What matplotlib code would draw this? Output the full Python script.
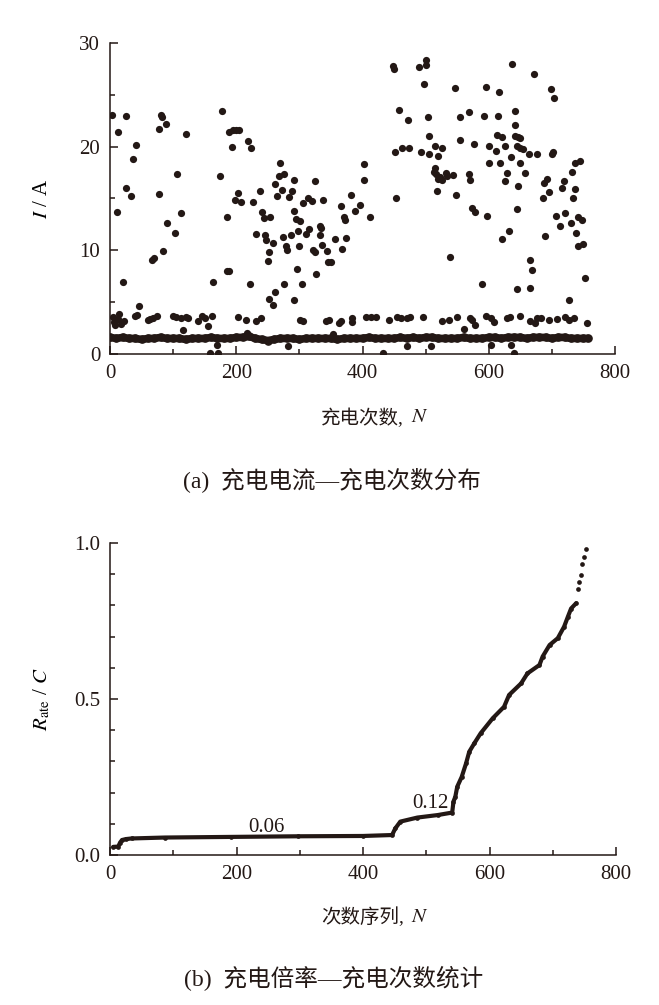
import matplotlib
matplotlib.use('Agg')
import matplotlib.pyplot as plt
from matplotlib.ticker import MultipleLocator, FormatStrFormatter

# (a) charging current vs charge count
# scattered high-current charges
cur_x = [3, 12, 11, 26, 20, 26, 33, 36, 41, 46,
         80, 82, 78, 88, 77, 66, 69, 84, 91, 103,
         106, 112, 120, 163, 178, 174, 185, 186, 188, 193,
         189, 195, 200, 205, 198, 203, 207, 218, 223, 227,
         222, 231, 238, 241, 244, 254, 245, 247, 252, 251,
         258, 252, 259, 262, 261, 265, 270, 268, 275, 273,
         274, 279, 280, 276, 283, 286, 288, 291, 291, 291,
         294, 297, 298, 300, 301, 305, 304, 311, 313, 316,
         320, 322, 324, 325, 327, 332, 334, 338, 333, 336,
         344, 346,
         350, 357, 374, 368, 366, 382, 396, 371, 373, 388,
         412, 403, 403, 449, 450, 453, 452, 458, 463, 474,
         472, 489, 500, 501, 498, 503, 492, 505, 505, 515,
         526, 520, 515, 517, 519, 514, 523, 526, 532, 534,
         543, 518, 539, 546, 548, 554, 555, 568, 571, 569,
         573, 579, 577, 589, 593, 596, 597, 601, 611, 601,
         614, 613, 617, 618, 621, 625, 621, 625, 629, 632,
         636, 637, 641, 642, 641, 647, 650, 645, 650, 654,
         647, 650, 645, 645, 665, 666, 669, 657, 664, 672,
         677, 689, 686, 688, 692, 696, 698, 704, 700, 701,
         707, 721, 713, 730, 716, 719, 737, 734, 732, 736,
         745, 727, 741, 747, 738, 742, 750, 753]
cur_y = [23.1, 21.4, 13.7, 23.0, 6.9, 16.0, 15.2, 18.8, 20.2, 4.6,
         23.1, 22.9, 21.7, 22.2, 15.4, 9.1, 9.3, 9.9, 12.6, 11.7,
         17.4, 13.6, 21.2, 6.9, 23.4, 17.2, 13.2, 8.0, 8.0, 20.0,
         21.4, 21.6, 21.6, 21.6, 14.9, 15.5, 14.7, 20.5, 19.9, 14.7,
         6.8, 11.6, 15.7, 13.7, 13.1, 13.2, 11.5, 11.0, 9.8, 9.0,
         10.7, 5.3, 4.7, 6.0, 16.4, 15.2, 18.4, 17.2, 17.4, 15.8,
         11.3, 10.4, 10.0, 6.8, 15.1, 11.5, 15.7, 16.8, 5.2, 13.8,
         13.0, 8.2, 11.9, 10.4, 12.8, 14.6, 6.8, 11.6, 15.0, 12.1,
         14.8, 10.0, 9.8, 16.7, 7.7, 12.3, 12.2, 14.9, 11.5, 10.5,
         9.9, 8.9,
         8.9, 11.1, 11.2, 10.1, 14.3, 15.3, 14.4, 13.2, 12.9, 13.8,
         13.2, 18.3, 16.8, 27.8, 27.5, 15.0, 19.5, 23.5, 19.9, 19.9,
         22.6, 27.7, 28.4, 27.9, 26.0, 22.9, 19.5, 19.3, 21.0, 20.1,
         19.9, 19.1, 17.9, 17.4, 16.9, 17.6, 17.1, 16.8, 17.5, 17.2,
         17.3, 15.7, 9.4, 25.7, 15.3, 22.9, 20.6, 17.4, 16.8, 23.3,
         14.1, 13.7, 20.3, 6.8, 23.0, 25.8, 13.3, 20.1, 19.6, 18.4,
         23.0, 21.1, 25.3, 18.4, 20.9, 20.1, 11.1, 16.7, 17.5, 11.9,
         19.0, 28.0, 22.1, 23.4, 21.0, 20.9, 20.8, 20.1, 19.9, 19.8,
         16.2, 18.4, 14.0, 6.3, 6.4, 9.1, 8.1, 17.5, 19.3, 27.0,
         19.3, 11.4, 15.0, 16.5, 16.9, 15.6, 25.6, 24.7, 19.3, 19.5,
         13.3, 13.6, 12.3, 12.6, 16.0, 16.7, 15.9, 15.0, 17.6, 18.4,
         18.6, 5.2, 13.2, 12.9, 11.7, 10.4, 10.6, 7.3]

# second band around 3.5 A
low_x = [4, 6, 8, 13, 17, 22, 14, 39, 43, 60, 64, 68, 74, 100, 105, 113, 121, 123, 115,
         139, 145, 150, 156, 161, 202, 216, 232, 239, 301, 306, 342,
         347, 363, 366, 383, 384, 405, 413, 421, 442, 455, 461, 471, 476, 496,
         526, 537, 550, 560, 571, 579, 574, 596, 604, 608, 629, 634, 650,
         666, 673, 676, 682, 695, 708, 721, 727, 735, 755]
low_y = [3.6, 3.1, 2.8, 3.4, 2.9, 3.2, 3.9, 3.7, 3.8, 3.3, 3.4, 3.5, 3.7, 3.7, 3.6, 3.5, 3.6, 3.5, 2.3,
         3.2, 3.7, 3.5, 2.7, 3.7, 3.6, 3.3, 3.2, 3.5, 3.3, 3.2, 3.2,
         3.3, 3.0, 3.2, 3.5, 3.1, 3.6, 3.6, 3.6, 3.3, 3.6, 3.5, 3.5, 3.6, 3.6,
         3.2, 3.3, 3.6, 2.4, 3.5, 2.8, 3.3, 3.7, 3.5, 3.1, 3.5, 3.6, 3.7,
         3.2, 3.0, 3.5, 3.5, 3.3, 3.4, 3.6, 3.3, 3.5, 3.0]

# dense base band around 1.5 A (read every 10 charges)
base_x = list(range(0, 760, 10)) + [757]
base_y = [1.6, 1.5, 1.6, 1.5, 1.5, 1.4, 1.5, 1.5, 1.6, 1.5,
          1.5, 1.5, 1.4, 1.5, 1.5, 1.5, 1.6, 1.5, 1.5, 1.5,
          1.6, 1.6, 1.7, 1.5, 1.4, 1.3, 1.4, 1.5, 1.5, 1.5,
          1.4, 1.5, 1.5, 1.5, 1.5, 1.5, 1.4, 1.5, 1.5, 1.5,
          1.5, 1.6, 1.5, 1.5, 1.5, 1.5, 1.6, 1.5, 1.6, 1.5,
          1.6, 1.6, 1.5, 1.5, 1.5, 1.5, 1.6, 1.5, 1.5, 1.5,
          1.6, 1.6, 1.5, 1.6, 1.6, 1.6, 1.5, 1.6, 1.6, 1.6,
          1.5, 1.6, 1.6, 1.5, 1.5, 1.5, 1.5]

# odd points just off the base band
dip_x = [159, 171, 169, 282, 433, 470, 509, 604, 635, 640, 217, 353]
dip_y = [0.05, 0.05, 0.9, 0.75, 0.05, 0.75, 0.8, 0.85, 0.9, 0.05, 2.0, 1.9]

# (b) sorted charge rate
rate_n = [5, 13, 16, 19, 25, 34, 87, 192, 298, 400,
          446, 451, 459, 486, 518, 541, 543, 546, 549, 556,
          563, 568, 576, 586, 605, 623, 631, 650, 660, 679,
          684, 695, 708, 718, 724, 729, 737, 740, 741, 745,
          746, 749, 752]
rate_val = [0.026, 0.027, 0.040, 0.048, 0.051, 0.053, 0.056, 0.058, 0.060, 0.061,
            0.064, 0.085, 0.107, 0.120, 0.128, 0.136, 0.171, 0.187, 0.219, 0.250,
            0.294, 0.331, 0.358, 0.390, 0.438, 0.475, 0.513, 0.550, 0.582, 0.609,
            0.636, 0.673, 0.695, 0.732, 0.764, 0.790, 0.807, 0.852, 0.876, 0.897,
            0.932, 0.956, 0.981]

plt.rcParams['font.family'] = ['Liberation Serif', 'Noto Sans CJK SC']
plt.rcParams['mathtext.fontset'] = 'stix'
ink = '#231815'
W, H = 659, 1005


def style_axes(ax, ymax, ymajor, yminor, yfmt):
    for s in ['top', 'right']:
        ax.spines[s].set_visible(False)
    for s in ['left', 'bottom']:
        ax.spines[s].set_linewidth(1.1)
        ax.spines[s].set_color(ink)
    ax.set_xlim(0, 800)
    ax.set_ylim(0, ymax)
    ax.xaxis.set_major_locator(MultipleLocator(200))
    ax.xaxis.set_minor_locator(MultipleLocator(100))
    ax.yaxis.set_major_locator(MultipleLocator(ymajor))
    ax.yaxis.set_minor_locator(MultipleLocator(yminor))
    ax.yaxis.set_major_formatter(FormatStrFormatter(yfmt))
    ax.tick_params(which='both', direction='in', colors=ink, width=1.1,
                   labelsize=15, pad=7)
    ax.tick_params(which='major', length=5.5)
    ax.tick_params(which='minor', length=3.5)


fig = plt.figure(figsize=(W / 100, H / 100), dpi=100)

ax1 = fig.add_axes([110 / W, 1 - 354 / H, 505 / W, 311 / H])
ax1.plot(base_x, base_y, color=ink, lw=5.5, solid_capstyle='round', zorder=2)
ax1.plot(base_x, base_y, 'o', color=ink, ms=5.2, zorder=2)
ax1.plot(low_x, low_y, 'o', color=ink, ms=5.2, mew=0, zorder=3)
ax1.plot(dip_x, dip_y, 'o', color=ink, ms=5.2, mew=0, zorder=3)
ax1.plot(cur_x, cur_y, 'o', color=ink, ms=5.2, mew=0, zorder=3)
style_axes(ax1, 30, 10, 5, '%d')
ax1.set_ylabel(r'$I$ / A', fontsize=15)
ax1.yaxis.set_label_coords(-0.115, 0.5)

ax2 = fig.add_axes([110 / W, 1 - 855 / H, 506 / W, 312 / H])
ax2.plot(rate_n[:37], rate_val[:37], color=ink, lw=3, solid_capstyle='round')
ax2.plot(rate_n, rate_val, 'o', color=ink, ms=3.4, mew=0)
style_axes(ax2, 1.0, 0.5, 0.1, '%.1f')
ax2.set_ylabel(r'$R_{\mathrm{ate}}$ / $C$', fontsize=15)
ax2.yaxis.set_label_coords(-0.115, 0.5)
ax2.text(248, 0.074, '0.06', fontsize=15, ha='center', va='baseline', color=ink)
ax2.text(506, 0.150, '0.12', fontsize=15, ha='center', va='baseline', color=ink)

# x labels: Chinese part + italic N
fig.text(404 / W, 1 - 418 / H, '充电次数,', fontsize=14, ha='right', va='center', color=ink)
fig.text(411 / W, 1 - 418 / H, r'$N$', fontsize=15, ha='left', va='center', color=ink)
fig.text(404 / W, 1 - 917 / H, '次数序列,', fontsize=14, ha='right', va='center', color=ink)
fig.text(411 / W, 1 - 917 / H, r'$N$', fontsize=15, ha='left', va='center', color=ink)

# captions
fig.text(332 / W, 1 - 480 / H, '(a)  充电电流—充电次数分布', fontsize=17, ha='center', va='center', color=ink)
fig.text(334 / W, 1 - 978 / H, '(b)  充电倍率—充电次数统计', fontsize=17, ha='center', va='center', color=ink)

fig.savefig('out.png', dpi=100)
